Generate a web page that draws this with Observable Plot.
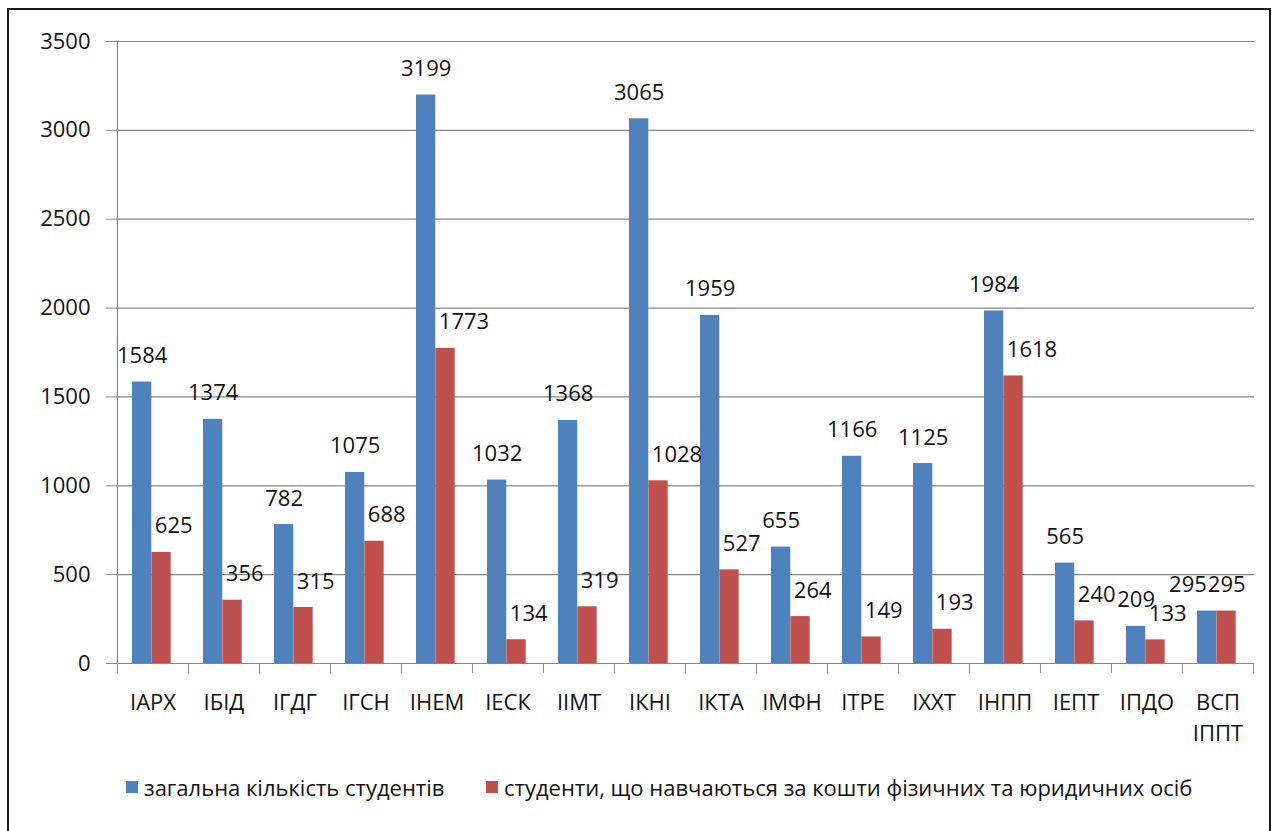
<!DOCTYPE html>
<html>
<head>
<meta charset="utf-8">
<script src="https://cdn.jsdelivr.net/npm/d3@7"></script>
<script src="https://cdn.jsdelivr.net/npm/@observablehq/plot@0.6"></script>
<style>
  html, body { margin: 0; padding: 0; background: #fff; }
  body { width: 1274px; height: 831px; position: relative; overflow: hidden; font-family: "Open Sans", sans-serif; }
  #frame { position: absolute; left: 7px; top: 8px; width: 1264px; height: 840px; border: 2.5px solid #1a1a1a; box-sizing: border-box; }
  #chart { position: absolute; left: 0; top: 0; }
  .leg { position: absolute; top: 772px; display: flex; align-items: center; font-size: 22px; color: #111; white-space: nowrap; }
  .sw { width: 12px; height: 12px; margin-right: 6px; display: inline-block; }
</style>
</head>
<body>
<div id="frame"></div>
<div id="chart"></div>
<div class="leg" style="left:126px"><span class="sw" style="background:#4F81BD"></span>загальна кількість студентів</div>
<div class="leg" style="left:486px"><span class="sw" style="background:#C0504D"></span>студенти, що навчаються за кошти фізичних та юридичних осіб</div>
<script>
const categories = ["ІАРХ", "ІБІД", "ІГДГ", "ІГСН", "ІНЕМ", "ІЕСК", "ІІМТ", "ІКНІ", "ІКТА", "ІМФН", "ІТРЕ", "ІХХТ", "ІНПП", "ІЕПТ", "ІПДО", "ВСП\nІППТ"];
const totalStudents = [1584, 1374, 782, 1075, 3199, 1032, 1368, 3065, 1959, 655, 1166, 1125, 1984, 565, 209, 295];
const paidStudents = [625, 356, 315, 688, 1773, 134, 319, 1028, 527, 264, 149, 193, 1618, 240, 133, 295];
const yTicks = [0, 500, 1000, 1500, 2000, 2500, 3000, 3500];

const data = categories.map((c, i) => ({cat: c, total: totalStudents[i], paid: paidStudents[i]}));
const lastCat = categories[categories.length - 1];
const mainData = data.filter(d => d.cat !== lastCat);
const lastData = data.filter(d => d.cat === lastCat);

const W = 1274, H = 760, ml = 116, mr = 20, mt = 41, mb = 97;
const bw = (W - ml - mr) / categories.length;
const gray = "#868686";
const blue = "#4F81BD", red = "#C0504D";
const bLeft = 15, bWidth = 19.4, rWidth = 19.4;
const redLeft = -bw / 2 + bLeft + bWidth;

const chart = Plot.plot({
  width: W, height: H,
  marginLeft: ml, marginRight: mr, marginTop: mt, marginBottom: mb,
  style: {fontFamily: "'Open Sans', sans-serif", fontSize: "22px", color: "#111", background: "transparent"},
  x: {type: "band", domain: categories, padding: 0, label: null},
  y: {domain: [0, 3500], label: null},
  marks: [
    Plot.gridY(yTicks, {stroke: gray, strokeOpacity: 1, strokeWidth: 1.2}),
    Plot.barY(data, {x: "cat", y: "total", fill: blue, insetLeft: bLeft, insetRight: bw - bLeft - bWidth}),
    Plot.barY(data, {x: "cat", y: "paid", fill: red, insetLeft: bLeft + bWidth, insetRight: bw - bLeft - bWidth - rWidth}),
    Plot.ruleX([categories[0]], {dx: -bw / 2, stroke: gray, strokeWidth: 1.2}),
    Plot.axisY(yTicks, {tickSize: 10, tickPadding: 16, tickFormat: d3.format("d"), stroke: gray, label: null}),
    Plot.axisX({tickSize: 10, tickFormat: () => "", dx: -bw / 2, stroke: gray, label: null}),
    Plot.axisX([lastCat], {tickSize: 10, tickFormat: () => "", dx: bw / 2, stroke: gray, label: null}),
    Plot.axisX({tickSize: 0, tickPadding: 25, lineHeight: 1.4, label: null}),
    Plot.text(mainData, {x: "cat", y: "total", text: d => String(d.total), textAnchor: "middle", lineAnchor: "bottom", dx: -bw / 2 + bLeft + bWidth / 2, dy: -19, fill: "#111"}),
    Plot.text(mainData, {x: "cat", y: "paid", text: d => String(d.paid), textAnchor: "start", lineAnchor: "bottom", dx: redLeft + 3, dy: -19, fill: "#111"}),
    Plot.text(lastData, {x: "cat", y: "total", text: d => String(d.total), textAnchor: "end", lineAnchor: "bottom", dx: redLeft - 10, dy: -19, fill: "#111"}),
    Plot.text(lastData, {x: "cat", y: "paid", text: d => String(d.paid), textAnchor: "start", lineAnchor: "bottom", dx: redLeft - 9, dy: -19, fill: "#111"})
  ]
});
document.getElementById("chart").appendChild(chart);
</script>
</body>
</html>
